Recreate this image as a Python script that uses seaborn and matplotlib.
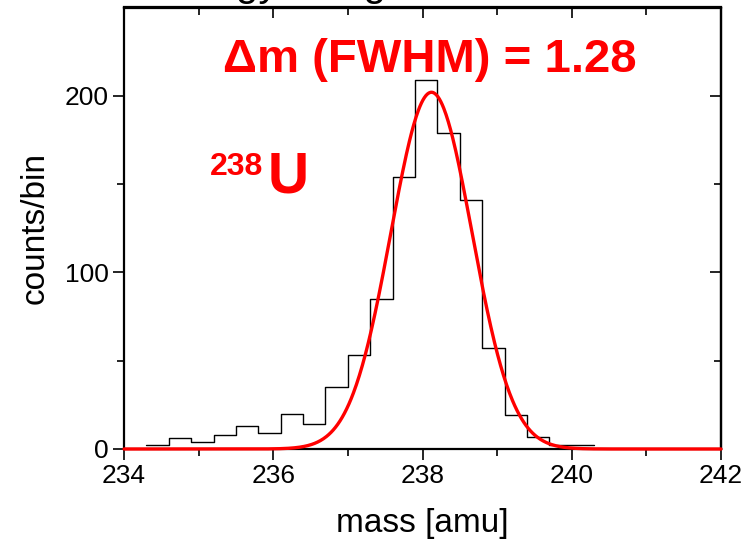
import numpy as np
import pandas as pd
import matplotlib
matplotlib.use("Agg")
import matplotlib.pyplot as plt
import seaborn as sns

# histogram: 0.3 amu bins from 234.3 to 240.3
bin_edges = [234.3, 234.6, 234.9, 235.2, 235.5, 235.8, 236.1, 236.4, 236.7, 237.0,
             237.3, 237.6, 237.9, 238.2, 238.5, 238.8, 239.1, 239.4, 239.7, 240.0, 240.3]
counts = [2, 6, 4, 8, 13, 9, 20, 14, 35, 53, 85, 154, 209, 179, 141, 57, 19, 7, 2, 2]

# gaussian fit parameters
fit_amplitude = 202.0
fit_center = 238.12
fit_fwhm = 1.28

x_ticks = [234, 236, 238, 240, 242]
y_ticks = [0, 100, 200]

sns.set_style("ticks", {"axes.edgecolor": "black", "xtick.color": "black",
                        "ytick.color": "black", "text.color": "black",
                        "axes.labelcolor": "black"})
plt.rcParams["font.family"] = ["Liberation Sans", "DejaVu Sans"]

fig = plt.figure(figsize=(7.5, 5.44), dpi=100)
ax = fig.add_axes([124 / 750, 1 - 449 / 544, (721 - 124) / 750, (449 - 7.5) / 544])

centers = [(a + b) / 2 for a, b in zip(bin_edges[:-1], bin_edges[1:])]
hist_df = pd.DataFrame({"mass": centers, "counts": counts})
sns.histplot(data=hist_df, x="mass", weights="counts", bins=bin_edges,
             element="step", fill=False, color="black", linewidth=1.0, ax=ax)

sigma = fit_fwhm / (2 * np.sqrt(2 * np.log(2)))
xs = np.linspace(234, 242, 800)
fit_df = pd.DataFrame({"mass": xs,
                       "fit": fit_amplitude * np.exp(-0.5 * ((xs - fit_center) / sigma) ** 2)})
sns.lineplot(data=fit_df, x="mass", y="fit", color="#ff0000", linewidth=2.4, ax=ax,
             zorder=5, clip_on=False)

ax.set_xlim(234, 242)
ax.set_ylim(0, 250)
ax.set_xticks(x_ticks)
ax.set_xticks(range(234, 243), minor=True)
ax.set_yticks(y_ticks)
ax.set_yticks([50, 150], minor=True)
ax.tick_params(which="major", direction="out", length=8, width=1.2, labelsize=19,
               pad=3, colors="black")
ax.tick_params(which="minor", direction="out", length=5, width=1.2, colors="black")
for s in ax.spines.values():
    s.set_linewidth(1.6)
    s.set_color("black")
    s.set_visible(True)

# mirrored ticks pointing inward on top and right
top = ax.secondary_xaxis("top")
top.set_xticks(x_ticks)
top.set_xticks(range(234, 243), minor=True)
top.tick_params(which="both", direction="in", length=8, width=1.2, labeltop=False,
                colors="black")
top.tick_params(which="minor", length=6)
right = ax.secondary_yaxis("right")
right.set_yticks(y_ticks)
right.set_yticks([50, 150], minor=True)
right.tick_params(which="both", direction="in", length=8, width=1.2, labelright=False,
                  colors="black")
right.tick_params(which="minor", length=5)
for sec in (top, right):
    for s in sec.spines.values():
        s.set_linewidth(1.6)
        s.set_color("black")

ax.set_xlabel("mass [amu]", fontsize=24, labelpad=14, color="black")
ax.set_ylabel("counts/bin", fontsize=24, labelpad=10, color="black")

ax.text(238.1, 213.6, "Δm (FWHM) = 1.28", color="#ff0000", fontsize=34,
        fontweight="bold", ha="center", va="baseline")
ax.text(235.87, 155.2, "238", color="#ff0000", fontsize=23,
        fontweight="bold", ha="right", va="baseline")
ax.text(235.93, 145.0, "U", color="#ff0000", fontsize=41,
        fontweight="bold", ha="left", va="baseline")

# title, mostly cut off at the top edge as in the original
fig.text(0.5 - 95 / 750, 1 + 4 / 544, "Energy Range", fontsize=29, ha="center",
         va="baseline", color="black")

fig.savefig("out.png", dpi=100)
